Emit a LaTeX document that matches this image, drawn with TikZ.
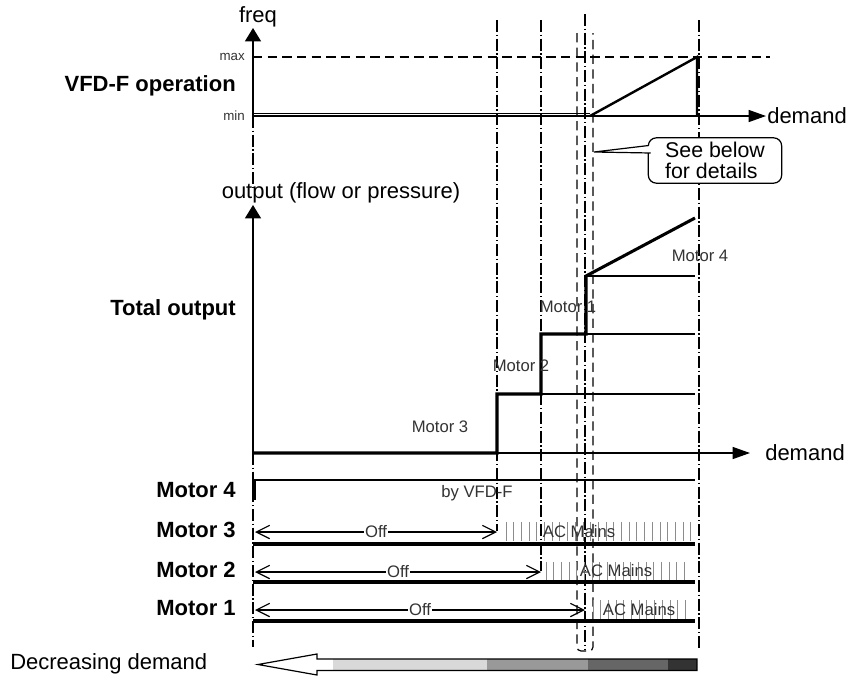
\documentclass[tikz,border=0pt]{standalone}
\usepackage{fontspec}
\setmainfont{Liberation Sans}
\usepackage{xcolor}
\usepackage{tikz}
\usetikzlibrary{arrows.meta, positioning, calc}

\definecolor{shadeA}{gray}{0.85}
\definecolor{shadeB}{gray}{0.60}
\definecolor{shadeC}{gray}{0.40}
\definecolor{shadeD}{gray}{0.20}

\begin{document}
\begin{tikzpicture}[
  x=0.75pt, y=-0.75pt,
  thn/.style    = {line width=0.9pt},
  thk/.style    = {line width=2.3pt},
  axis/.style   = {thn, -{Triangle[length=10pt,width=12pt]}},
  haxis/.style  = {thn, -{Triangle[length=13pt,width=9pt]}},
  guide/.style  = {line width=0.8pt, dash pattern=on 9pt off 2pt on 1pt off 2pt},
  bound/.style  = {line width=0.9pt, dash pattern=on 7pt off 4pt},
  offarr/.style = {thn, {Straight Barb[length=10pt,width=10pt]}-{Straight Barb[length=10pt,width=10pt]}},
  hatch/.style  = {black!45, line width=0.7pt},
  big/.style    = {font=\fontsize{16.5}{18}\selectfont\bfseries, anchor=east,
                   inner sep=0pt},
  txt/.style    = {font=\fontsize{16.5}{18}\selectfont, inner sep=0pt},
  small/.style  = {font=\fontsize{12.5}{14}\selectfont, inner sep=1pt,
                   text=black!80},
  tiny/.style   = {font=\fontsize{10}{12}\selectfont, anchor=east,
                   inner sep=0pt, text=black!80}
]
\useasboundingbox (0,0) rectangle (857,679);

% frequency graph
\coordinate (o1)   at (253,116);
\coordinate (ftop) at (253,28);
\coordinate (xtop) at (766,116);
\draw[axis]  (o1) -- (ftop);
\draw[haxis] (o1) -- (xtop);
\node[txt] (freq) at (258,17) {freq};
\node[txt, anchor=west] (demT) at (767,116) {demand};
\node[tiny] (max) at (245,57) {max};
\node[tiny] (min) at (245,116) {min};
\node[big] (vfd) at (236,86) {VFD-F operation};
\coordinate (fmax) at (253,57);
\coordinate (fend) at (770,57);
\draw[bound] (fmax) -- (fend);
\draw[line width=1pt, double, double distance=0.7pt] (254,114.5) -- (590,114.5);
\draw[line width=1.8pt] (590,116) -- (697,57) -- (697,116);

% guides
\draw[guide] (253,116) -- (253,188);
\draw[guide] (253,453) -- (253,647);
\draw[guide] (497,20) -- (497,531);
\draw[guide] (541,20) -- (541,571);
\draw[guide] (585,14) -- (585,650);
\draw[guide] (699,20) -- (699,648);
\draw[bound, rounded corners=3pt] (577,33) -- (577,651) -- (593,651) -- (593,33);

% callout
\node[font=\fontsize{16}{15.5}\selectfont, draw, thn, rounded corners=6pt,
      align=left, minimum width=100pt, minimum height=34pt, inner sep=2pt,
      fill=white] (see) at (715,160.5) {See below\\for details};
\coordinate (tip) at (594,152);
\fill[white] ($(see.west)+(1,-15)$) -- (tip) -- ($(see.west)+(3,-7.5)$) -- cycle;
\draw[thn] ($(see.west)+(1,-15)$) -- (tip) -- ($(see.west)+(3,-7.5)$);

% output graph
\coordinate (o2)   at (253,453);
\coordinate (otop) at (253,205);
\coordinate (xbot) at (750,453);
\draw[axis]  (o2) -- (otop);
\draw[haxis] (o2) -- (xbot);
\node[txt] (outlbl) at (341,193) {output (flow or pressure)};
\node[txt, anchor=west] (demB) at (765,453) {demand};
\node[big] (tot) at (236,310) {Total output};
\draw[thn] (497,394) -- (695,394);
\draw[thn] (541,334) -- (695,334);
\draw[thn] (586,276) -- (695,276);
\draw[thk] (o2) -- (497,453) -- (497,394) -- (541,394) -- (541,334)
           -- (586,334) -- (586,276) -- (695,218);
\node[small] (lm3) at (440,427) {Motor 3};
\node[small] (lm2) at (521,366) {Motor 2};
\node[small] (lm1) at (568,307) {Motor 1};
\node[small] (lm4) at (700,256) {Motor 4};

% motor rows
\node[big] (m4) at (236,490) {Motor 4};
\node[big] (m3) at (236,530) {Motor 3};
\node[big] (m2) at (236,570) {Motor 2};
\node[big] (m1) at (236,608) {Motor 1};

\draw[thn] (253,480) -- (695,480);
\draw[line width=2.4pt] (254,479) -- (254,500);
\node[small] (vfd4) at (477,493) {by VFD-F};

\foreach \x in {506,513.7,...,692} \draw[hatch] (\x,522) -- (\x,541);
\draw[thk] (253,544) -- (695,544);
\draw[offarr] (255,532) -- (497,532) node[small, midway, fill=white] (off3) {Off};
\node[small] (ac3) at (579,532) {AC Mains};

\foreach \x in {546,553.7,...,692} \draw[hatch] (\x,562) -- (\x,581);
\draw[thk] (253,582) -- (695,582);
\draw[offarr] (255,572) -- (541,572) node[small, midway, fill=white] (off2) {Off};
\node[small] (ac2) at (616,571) {AC Mains};

\foreach \x in {593,600.7,...,692} \draw[hatch] (\x,600) -- (\x,620);
\draw[thk] (253,621) -- (695,621);
\draw[offarr] (255,610) -- (585,610) node[small, midway, fill=white] (off1) {Off};
\node[small] (ac1) at (639,610) {AC Mains};

% decreasing demand arrow
\node[txt, anchor=west] (dec) at (10,664) {Decreasing demand};
\fill[shadeA] (333,659) rectangle (487,670.5);
\fill[shadeB] (487,659) rectangle (588,670.5);
\fill[shadeC] (588,659) rectangle (668,670.5);
\fill[shadeD] (668,659) rectangle (697,670.5);
\draw[thn] (258,664.5) -- (317,654) -- (317,659) -- (697,659) -- (697,670.5)
           -- (317,670.5) -- (317,675) -- cycle;

\end{tikzpicture}
\end{document}
